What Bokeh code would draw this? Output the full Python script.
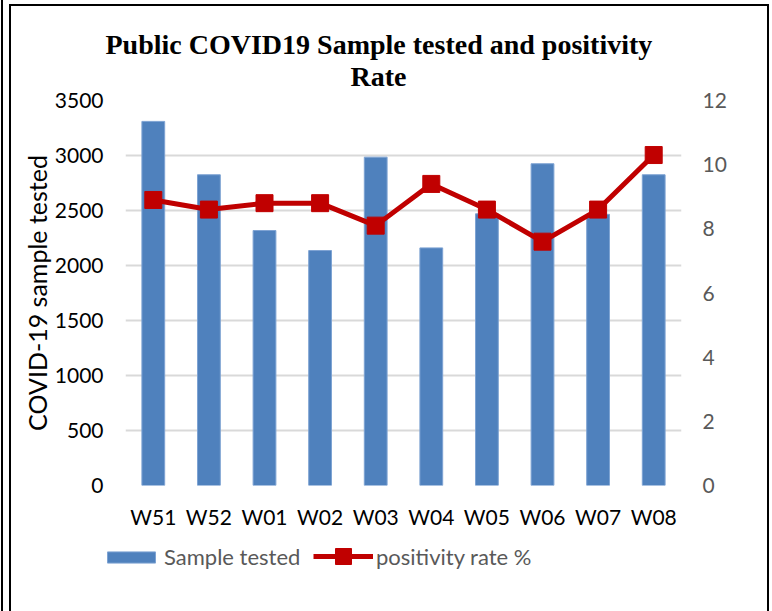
from bokeh.plotting import figure
from bokeh.models import (ColumnDataSource, FactorRange, Range1d, LinearAxis,
                          Legend, LegendItem, Title, InlineStyleSheet)
from bokeh.embed import file_html
from bokeh.resources import INLINE

weeks = ["W51", "W52", "W01", "W02", "W03", "W04", "W05", "W06", "W07", "W08"]
samples_tested = [3310, 2825, 2318, 2136, 2985, 2160, 2470, 2925, 2465, 2825]
positivity_rate = [8.9, 8.6, 8.8, 8.8, 8.1, 9.4, 8.6, 7.6, 8.6, 10.3]
left_ticks = [0, 500, 1000, 1500, 2000, 2500, 3000, 3500]
right_ticks = [0, 2, 4, 6, 8, 10, 12]

BAR_COLOR = "#4F81BD"
LINE_COLOR = "#C00000"
FONT = "Lato"

src = ColumnDataSource(dict(week=weeks, samples=samples_tested, rate=positivity_rate))

frame_css = InlineStyleSheet(css="""
:host { position: relative; overflow: visible; }
:host::after { content: ''; position: absolute; left: 9px; top: 4px; width: 760px; height: 607px;
  border: 2px solid #000; border-bottom: none; box-sizing: border-box; pointer-events: none; z-index: 10; }
:host::before { content: ''; position: absolute; left: 1px; top: 0px; width: 2px; height: 611px;
  background: #000; pointer-events: none; z-index: 10; }
""")

p = figure(x_range=FactorRange(*weeks), y_range=Range1d(0, 3500),
           frame_width=556, frame_height=385, output_backend="svg", toolbar_location=None,
           min_border_left=125, min_border_right=91, min_border_top=100, min_border_bottom=40,
           stylesheets=[frame_css])
p.extra_y_ranges = {"rate": Range1d(0, 12)}
p.outline_line_color = None
p.background_fill_color = "white"
p.border_fill_color = "white"

bars = p.vbar(x="week", top="samples", width=0.41, source=src,
              fill_color=BAR_COLOR, line_color="#7EA3D3", line_width=1)
line_r = p.line(x="week", y="rate", source=src, y_range_name="rate",
                line_color=LINE_COLOR, line_width=5)
pts = p.scatter(x="week", y="rate", source=src, y_range_name="rate",
                marker="square", size=17, fill_color=LINE_COLOR, line_color=LINE_COLOR)

yax = p.yaxis[0]
yax.ticker = left_ticks
yax.axis_label = "COVID-19 sample tested"
yax.axis_label_text_font = FONT
yax.axis_label_text_font_size = "25px"
yax.axis_label_text_font_style = "normal"
yax.axis_label_text_color = "#000000"
yax.axis_label_standoff = 0
yax.major_label_text_font = FONT
yax.major_label_text_font_size = "21px"
yax.major_label_text_color = "#000000"
yax.major_label_standoff = 16
yax.axis_line_color = None
yax.major_tick_line_color = None
yax.minor_tick_line_color = None

rax = LinearAxis(y_range_name="rate", ticker=right_ticks)
rax.major_label_text_font = FONT
rax.major_label_text_font_size = "21px"
rax.major_label_text_color = "#595959"
rax.major_label_standoff = 15
rax.axis_line_color = None
rax.major_tick_line_color = None
rax.minor_tick_line_color = None
p.add_layout(rax, "right")

xax = p.xaxis[0]
xax.major_label_text_font = FONT
xax.major_label_text_font_size = "21px"
xax.major_label_text_color = "#000000"
xax.major_label_standoff = 12
xax.axis_line_color = None
xax.major_tick_line_color = None

p.xgrid.grid_line_color = None
p.ygrid.grid_line_color = "#D9D9D9"
p.ygrid.grid_line_width = 2

t2 = Title(text="Rate", align="left", offset=225, standoff=18,
           text_font="Liberation Serif", text_font_size="28px", text_font_style="bold",
           text_color="#000000")
t1 = Title(text="Public COVID19 Sample tested and positivity", align="left", offset=-20,
           standoff=-21, text_font="Liberation Serif", text_font_size="28px",
           text_font_style="bold", text_color="#000000")
p.add_layout(t2, "above")
p.add_layout(t1, "above")

# legend strip below the chart: same series, drawn outside this strip's visible range,
# so only their legend glyphs show
lg = figure(x_range=FactorRange(*weeks), y_range=Range1d(5000, 6000), width=772, height=86,
            output_backend="svg", toolbar_location=None,
            x_axis_location=None, y_axis_location=None,
            min_border_left=0, min_border_right=0, min_border_top=0, min_border_bottom=0)
lg.outline_line_color = None
lg.grid.visible = False
lg_bar = lg.vbar(x="week", top="samples", width=0.41, source=src,
                 fill_color=BAR_COLOR, line_color="#7EA3D3", line_width=1)
lg_line = lg.line(x="week", y="rate", source=src, line_color=LINE_COLOR, line_width=5)
lg_pts = lg.scatter(x="week", y="rate", source=src, marker="square", size=17,
                    fill_color=LINE_COLOR, line_color=LINE_COLOR)

common = dict(orientation="horizontal", padding=0, margin=0, label_standoff=3,
              border_line_color=None, background_fill_alpha=0,
              label_text_font=FONT, label_text_font_size="22px", label_text_color="#595959")
legend_bar = Legend(items=[LegendItem(label="Sample tested", renderers=[lg_bar])],
                    location=(101, 47), glyph_width=60, glyph_height=14, **common)
legend_line = Legend(items=[LegendItem(label="positivity rate %", renderers=[lg_line, lg_pts])],
                     location=(313, 41), glyph_width=60, glyph_height=40, **common)
lg.add_layout(legend_bar)
lg.add_layout(legend_line)

open("out.html", "w").write(file_html([p, lg], INLINE))
